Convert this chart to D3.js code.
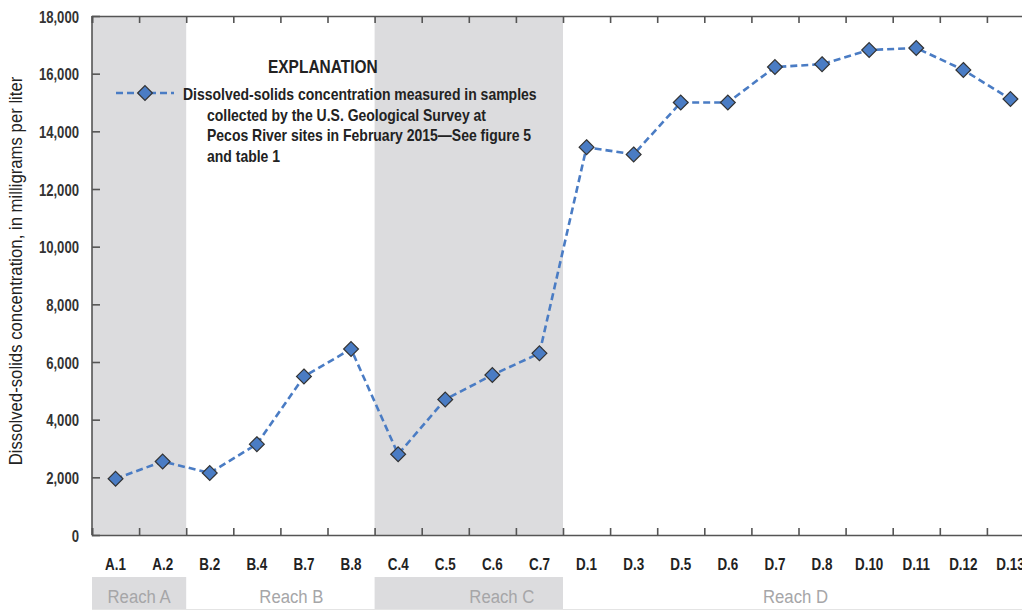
<!DOCTYPE html>
<html>
<head>
<meta charset="utf-8">
<script src="https://cdn.jsdelivr.net/npm/d3@7"></script>
<style>
  body { margin: 0; background: #fff; }
  svg { display: block; }
  text { font-family: "Liberation Sans", Arial, sans-serif; }
  .axis path, .axis line { stroke: #555; }
</style>
</head>
<body>
<svg id="chart" width="1022" height="610"></svg>
<script>
// sites along the river, upstream to downstream
var sites = ["A.1", "A.2", "B.2", "B.4", "B.7", "B.8", "C.4", "C.5", "C.6", "C.7",
             "D.1", "D.3", "D.5", "D.6", "D.7", "D.8", "D.10", "D.11", "D.12", "D.13"];
// dissolved solids, mg/L
var concentration = [1950, 2550, 2150, 3150, 5500, 6450, 2800, 4700, 5550, 6300,
                     13450, 13200, 15000, 15000, 16230, 16330, 16820, 16890, 16130, 15120];
var reachNames = ["Reach A", "Reach B", "Reach C", "Reach D"];
var reachFirst = ["A.1", "B.2", "C.4", "D.1"];
var reachLast = ["A.2", "B.8", "C.7", "D.13"];
var reachShaded = [true, false, true, false];
var yTicks = [0, 2000, 4000, 6000, 8000, 10000, 12000, 14000, 16000, 18000];
var legendLines = ["Dissolved-solids concentration measured in samples",
                   "collected by the U.S. Geological Survey at",
                   "Pecos River sites in February 2015\u2014See figure 5",
                   "and table 1"];

var svg = d3.select("#chart");
var plotLeft = 92, plotRight = 1034, plotTop = 16, plotBottom = 535;
var blue = "#4a7cc4";
var squeeze = 0.84;

// narrow the font the way the condensed type in the figure looks
function condense(sel, k) {
    sel.each(function() {
        var t = d3.select(this);
        var tx = +t.attr("x") || 0, ty = +t.attr("y") || 0;
        var old = t.attr("transform") || "";
        t.attr("x", 0).attr("y", 0)
         .attr("transform", old + " translate(" + tx + "," + ty + ") scale(" + k + ",1)");
    });
}

var x = d3.scaleBand().domain(sites).range([plotLeft, plotRight]);
var xEdge = d3.scaleLinear().domain([0, sites.length]).range([plotLeft, plotRight]);
var y = d3.scaleLinear().domain([0, 18000]).range([plotBottom, plotTop]);

var labelShift = [0, 11, 33, -3];
var reaches = reachNames.map(function(n, i) {
    return {name: n, x0: x(reachFirst[i]), x1: x(reachLast[i]) + x.bandwidth(),
            shaded: reachShaded[i], shift: labelShift[i]};
});

// shaded reaches in the plot
svg.selectAll("rect.reach")
    .data(reaches.filter(function(d) { return d.shaded; }))
    .enter().append("rect")
    .attr("class", "reach")
    .attr("x", function(d) { return d.x0; })
    .attr("y", plotTop)
    .attr("width", function(d) { return d.x1 - d.x0; })
    .attr("height", plotBottom - plotTop)
    .style("fill", "#dcdcde");

// reach band under the axis
svg.selectAll("rect.band")
    .data(reaches.filter(function(d) { return d.shaded; }))
    .enter().append("rect")
    .attr("class", "band")
    .attr("x", function(d) { return d.x0; })
    .attr("y", 577)
    .attr("width", function(d) { return d.x1 - d.x0; })
    .attr("height", 32)
    .style("fill", "#dcdcde");

svg.append("line")
    .attr("x1", plotLeft).attr("x2", 1022)
    .attr("y1", 609.5).attr("y2", 609.5)
    .style("stroke", "#e4e4e4");

svg.selectAll("text.reachLabel")
    .data(reaches)
    .enter().append("text")
    .attr("class", "reachLabel")
    .attr("x", function(d) { return (d.x0 + d.x1) / 2 + d.shift; })
    .attr("y", 603)
    .attr("text-anchor", "middle")
    .style("font-size", "19px")
    .style("fill", "#a6a6a8")
    .text(function(d) { return d.name; })
    .call(condense, 0.88);

// axes
svg.append("g")
    .attr("class", "axis")
    .attr("transform", "translate(0," + plotBottom + ")")
    .call(d3.axisBottom(xEdge).tickValues(d3.range(sites.length + 1)).tickSize(-7).tickFormat(""))
    .call(function(g) { g.selectAll("path, line").style("stroke-width", 1.6); });

svg.append("g")
    .attr("class", "axis")
    .attr("transform", "translate(0," + plotTop + ")")
    .call(d3.axisTop(xEdge).tickValues(d3.range(sites.length + 1)).tickSize(-7).tickFormat(""))
    .call(function(g) { g.selectAll("path, line").style("stroke-width", 1.6); });

svg.append("g")
    .attr("transform", "translate(0," + plotBottom + ")")
    .call(d3.axisBottom(x).tickSize(0).tickPadding(0))
    .call(function(g) {
        g.select(".domain").remove();
        g.selectAll("text")
            .attr("y", 35)
            .attr("dy", null)
            .style("font-size", "16px")
            .style("font-weight", "bold")
            .style("fill", "#222")
            .call(condense, squeeze);
    });

svg.append("g")
    .attr("class", "axis")
    .attr("transform", "translate(" + plotLeft + ",0)")
    .call(d3.axisLeft(y).tickValues(yTicks).tickSize(-8).tickPadding(13).tickFormat(d3.format(",")))
    .call(function(g) {
        g.selectAll("path, line").style("stroke-width", 1.6);
        g.select(".domain").attr("d", "M0," + plotTop + "V" + plotBottom);
        g.selectAll("text")
            .attr("dy", null)
            .attr("y", 6)
            .style("font-size", "16px")
            .style("font-weight", "bold")
            .style("fill", "#333")
            .call(condense, 0.82);
    });

svg.append("text")
    .attr("text-anchor", "middle")
    .attr("transform", "translate(22," + 271 + ") rotate(-90) scale(0.93,1)")
    .style("font-size", "18px")
    .style("fill", "#222")
    .text("Dissolved-solids concentration, in milligrams per liter");

// the series
var line = d3.line()
    .x(function(d, i) { return x(sites[i]) + x.bandwidth() / 2; })
    .y(function(d) { return y(d); });

svg.append("path")
    .datum(concentration)
    .attr("d", line)
    .style("fill", "none")
    .style("stroke", blue)
    .style("stroke-width", 2.6)
    .style("stroke-dasharray", "7,4");

var diamond = d3.symbol().type(d3.symbolDiamond2).size(140);

svg.selectAll("path.pt")
    .data(concentration)
    .enter().append("path")
    .attr("class", "pt")
    .attr("d", diamond)
    .attr("transform", function(d, i) {
        return "translate(" + (x(sites[i]) + x.bandwidth() / 2) + "," + y(d) + ")";
    })
    .style("fill", blue)
    .style("stroke", "#333")
    .style("stroke-width", 1.2);

// explanation
svg.append("text")
    .attr("x", 268)
    .attr("y", 73)
    .style("font-size", "18px")
    .style("font-weight", "bold")
    .style("fill", "#222")
    .text("EXPLANATION")
    .call(condense, 0.86);

svg.append("line")
    .attr("x1", 116).attr("x2", 174)
    .attr("y1", 93).attr("y2", 93)
    .style("stroke", blue)
    .style("stroke-width", 2.6)
    .style("stroke-dasharray", "7,4");

svg.append("path")
    .attr("d", diamond)
    .attr("transform", "translate(145,93)")
    .style("fill", blue)
    .style("stroke", "#333")
    .style("stroke-width", 1.2);

svg.selectAll("text.legend")
    .data(legendLines)
    .enter().append("text")
    .attr("class", "legend")
    .attr("x", function(d, i) { return i == 0 ? 183 : 207; })
    .attr("y", function(d, i) { return 100 + i * 20.5; })
    .style("font-size", "16px")
    .style("font-weight", "bold")
    .style("fill", "#222")
    .text(function(d) { return d; })
    .call(condense, 0.875);
</script>
</body>
</html>
